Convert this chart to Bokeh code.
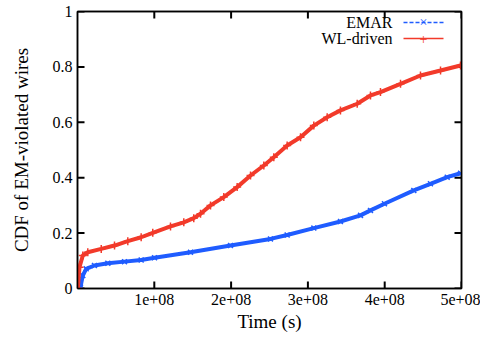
from bokeh.plotting import figure
from bokeh.models import FixedTicker, LinearAxis, Range1d, Label, Arrow
from bokeh.embed import file_html
from bokeh.resources import INLINE

# ---- data (time in seconds, CDF) ----
wl_time = [0.0, 0.004e8, 0.026e8, 0.069e8, 0.134e8, 0.309e8, 0.482e8, 0.655e8, 0.829e8,
           0.98e8, 1.211e8, 1.384e8, 1.514e8, 1.602e8, 1.732e8, 1.905e8, 2.079e8,
           2.253e8, 2.426e8, 2.556e8, 2.730e8, 2.904e8, 3.077e8, 3.251e8, 3.424e8,
           3.642e8, 3.815e8, 3.945e8, 4.206e8, 4.466e8, 4.727e8, 4.987e8]
wl_cdf = [0.0, 0.0, 0.077, 0.119, 0.131, 0.143, 0.155, 0.171, 0.185,
          0.201, 0.224, 0.239, 0.254, 0.27, 0.30, 0.33, 0.366,
          0.408, 0.444, 0.474, 0.516, 0.546, 0.588, 0.618, 0.643,
          0.667, 0.697, 0.709, 0.739, 0.769, 0.787, 0.805]

emar_time = [0.03e8, 0.039e8, 0.069e8, 0.113e8, 0.221e8, 0.395e8, 0.612e8, 0.829e8,
             1.003e8, 1.471e8, 1.992e8, 2.513e8, 2.730e8, 3.077e8, 3.424e8, 3.685e8,
             3.815e8, 3.997e8, 4.379e8, 4.596e8, 4.814e8, 4.987e8]
emar_cdf = [0.0, 0.005, 0.047, 0.071, 0.083, 0.091, 0.097, 0.103,
            0.111, 0.131, 0.155, 0.179, 0.193, 0.218, 0.242, 0.264,
            0.282, 0.306, 0.354, 0.378, 0.402, 0.416]

x_ticks = [1e8, 2e8, 3e8, 4e8, 5e8]
x_tick_labels = ["1e+08", "2e+08", "3e+08", "4e+08", "5e+08"]
y_ticks = [0, 0.2, 0.4, 0.6, 0.8, 1.0]
y_tick_labels = ["0", "0.2", "0.4", "0.6", "0.8", "1"]

series_names = ["EMAR", "WL-driven"]
BLUE = "#1f5cff"
RED = "#f23a2a"
FONT = "Liberation Serif"

W, H = 480, 337
BL, BR, BT, BB = 77, 19, 11, 49
X0, X1, Y0, Y1 = 0, 5e8, 0, 1
p = figure(width=W, height=H, output_backend="svg", toolbar_location=None,
           x_range=Range1d(X0, X1), y_range=Range1d(Y0, Y1),
           min_border_left=BL, min_border_right=BR, min_border_top=BT, min_border_bottom=BB)
p.xgrid.visible = False
p.ygrid.visible = False
p.outline_line_color = "black"
p.outline_line_width = 1.5
p.background_fill_color = None
p.border_fill_color = "white"

def style_axis(ax, ticks, labels, show_labels):
    ax.ticker = FixedTicker(ticks=ticks, minor_ticks=[])
    ax.major_label_overrides = {t: l for t, l in zip(ticks, labels)}
    ax.major_tick_in = 0
    ax.major_tick_out = 0
    ax.minor_tick_in = 0
    ax.minor_tick_out = 0
    ax.axis_line_color = "black"
    ax.axis_line_width = 1.5
    ax.major_label_text_font = FONT
    ax.major_label_text_font_size = "16px" if show_labels else "0px"
    ax.major_label_text_color = "black"
    ax.axis_label_text_font = FONT
    ax.axis_label_text_font_style = "normal"
    ax.axis_label_text_font_size = "19px"
    ax.axis_label_text_color = "black"

xa = p.xaxis[0]
style_axis(xa, x_ticks, x_tick_labels, True)
xa.axis_label = "Time (s)"
xa.major_label_standoff = 5
xa.axis_label_standoff = 3

ya = p.yaxis[0]
style_axis(ya, y_ticks, y_tick_labels, True)
ya.axis_label = "CDF of EM-violated wires"
ya.major_label_standoff = 5
ya.axis_label_standoff = 18

top_ax = LinearAxis()
style_axis(top_ax, x_ticks, ["" for _ in x_ticks], False)
top_ax.major_label_standoff = 0
p.add_layout(top_ax, "above")
right_ax = LinearAxis()
style_axis(right_ax, y_ticks, ["" for _ in y_ticks], False)
right_ax.major_label_standoff = 0
p.add_layout(right_ax, "right")

# ---- inward, mirrored tick marks (gnuplot style), lengths from the frame size ----
frame_w = W - BL - BR
frame_h = H - BT - BB
TICK_PX = 7
ty = TICK_PX / frame_h * (Y1 - Y0)
tx = TICK_PX / frame_w * (X1 - X0)
nx, ny = len(x_ticks), len(y_ticks)
tick_style = dict(line_color="black", line_width=2)
p.segment(x0=x_ticks, y0=[Y0] * nx, x1=x_ticks, y1=[Y0 + ty] * nx, **tick_style)
p.segment(x0=x_ticks, y0=[Y1] * nx, x1=x_ticks, y1=[Y1 - ty] * nx, **tick_style)
p.segment(x0=[X0] * ny, y0=y_ticks, x1=[X0 + tx] * ny, y1=y_ticks, **tick_style)
p.segment(x0=[X1] * ny, y0=y_ticks, x1=[X1 - tx] * ny, y1=y_ticks, **tick_style)

# ---- series ----
p.line(emar_time, emar_cdf, line_color=BLUE, line_width=4)
p.scatter(emar_time, emar_cdf, marker="x", size=7, line_color=BLUE, line_width=1.5)
p.line(wl_time, wl_cdf, line_color=RED, line_width=4)
p.scatter(wl_time, wl_cdf, marker="cross", size=8, line_color=RED, line_width=1.5)

# ---- gnuplot-style key (label left, sample right), screen units relative to frame ----
key_rows = [(series_names[0], BLUE, "4 2", "×"), (series_names[1], RED, "solid", "+")]
for i, (name, col, dash, mk) in enumerate(key_rows):
    yk = frame_h - 11 - 16 * i
    p.add_layout(Label(x=315, y=yk, x_units="screen", y_units="screen", text=name,
                       text_align="right", text_baseline="middle", text_font=FONT,
                       text_font_size="16px", text_color="black"))
    p.add_layout(Arrow(x_start=326, y_start=yk, x_end=366, y_end=yk,
                       start_units="screen", end_units="screen", end=None,
                       line_color=col, line_width=1.5, line_dash=dash))
    p.add_layout(Label(x=346, y=yk, x_units="screen", y_units="screen", text=mk,
                       text_align="center", text_baseline="middle", text_font=FONT,
                       text_font_size="14px", text_color=col))

open("out.html", "w").write(file_html(p, INLINE))
